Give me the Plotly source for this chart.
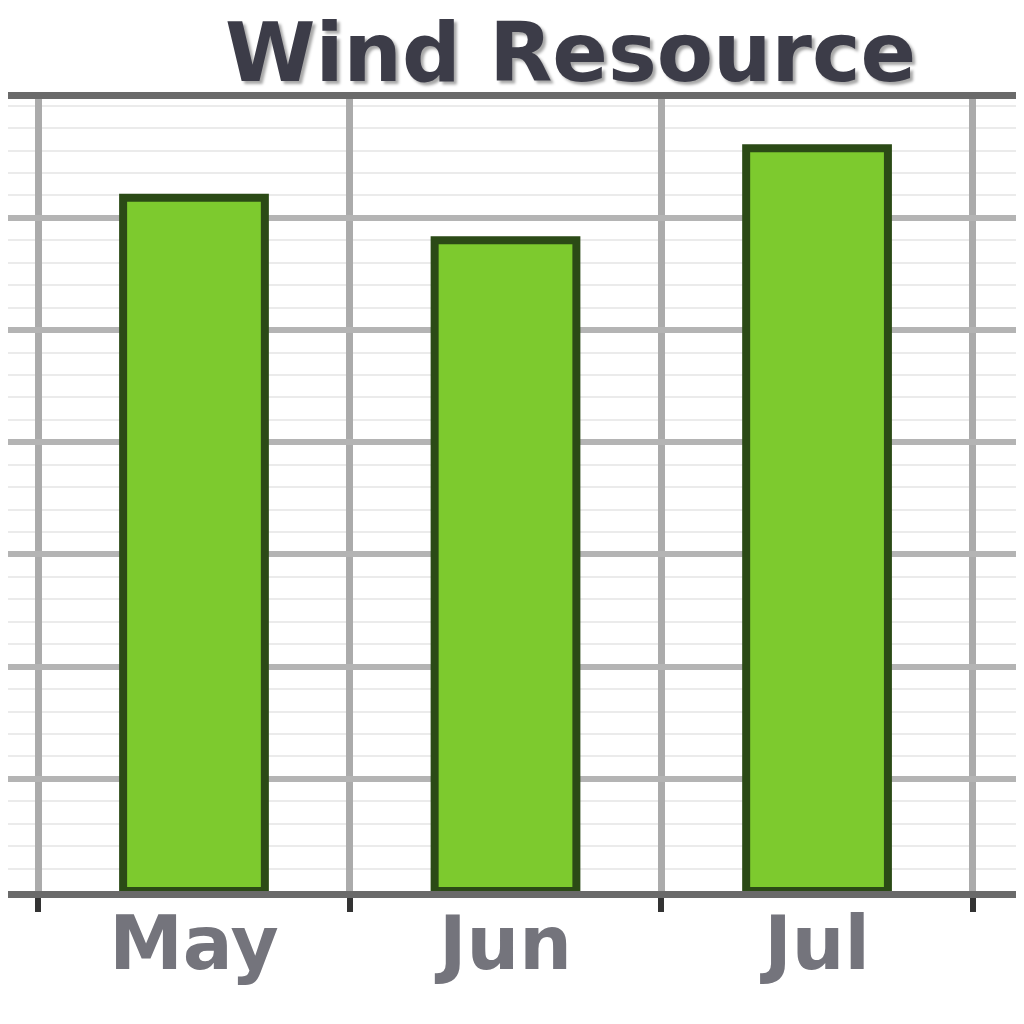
import plotly.graph_objects as go

months = ["May", "Jun", "Jul"]
wind_values = [6.18, 5.80, 6.62]
major_ticks = [0, 1, 2, 3, 4, 5, 6]
title_text = "Wind Resource"

fig = go.Figure()
fig.add_trace(go.Bar(
    x=months,
    y=wind_values,
    marker=dict(color="#7dca2e", line=dict(color="#2b4a16", width=8)),
    width=0.455,
    showlegend=False,
))

fig.update_layout(
    width=1024,
    height=1024,
    margin=dict(l=0, r=0, t=91, b=141, autoexpand=False),
    paper_bgcolor="white",
    plot_bgcolor="white",
    title=dict(
        text=title_text,
        x=217 / 1024,
        xanchor="left",
        xref="paper",
        yref="container",
        y=0.957,
        yanchor="middle",
        font=dict(family="DejaVu Sans", size=82, weight="bold", color="#3c3c48",
                  shadow="3px 3px 3px rgba(0,0,0,0.35)"),
    ),
    xaxis=dict(
        range=[-0.597, 2.690],
        tickson="boundaries",
        showgrid=True,
        gridcolor="#ababab",
        gridwidth=7,
        ticks="outside",
        ticklen=14,
        tickwidth=6,
        tickcolor="#333333",
        showline=True,
        mirror=True,
        linecolor="#6a6a6a",
        linewidth=7,
        automargin=False,
        ticklabelstandoff=-18,
        tickfont=dict(family="DejaVu Sans", size=74, weight="bold", color="#74747c"),
        zeroline=False,
    ),
    yaxis=dict(
        range=[0, 7.06],
        tickvals=major_ticks,
        showgrid=True,
        gridcolor="#b4b4b4",
        gridwidth=6,
        showticklabels=False,
        ticks="",
        showline=True,
        mirror=True,
        linecolor="#777777",
        linewidth=5,
        automargin=False,
        zeroline=False,
        minor=dict(dtick=0.2, showgrid=True, gridcolor="#ebebeb", gridwidth=2),
    ),
)

fig.write_html("out.html")
